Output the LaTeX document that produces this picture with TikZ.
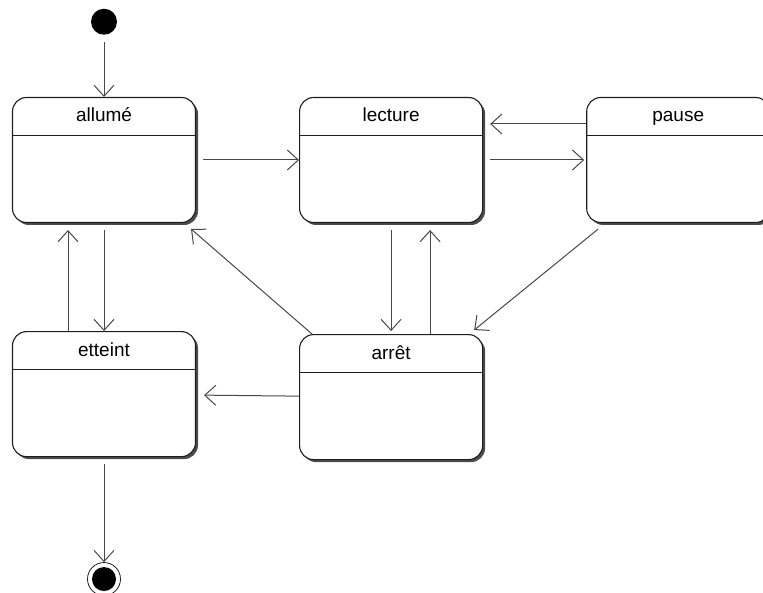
\documentclass[tikz,border=0pt]{standalone}
\usepackage{fontspec}
\setsansfont{Liberation Sans}
\usepackage{xcolor}
\usepackage{tikz}
\usetikzlibrary{arrows.meta, positioning, shadows}
\definecolor{ligne}{RGB}{72,72,72}
\definecolor{bord}{RGB}{30,30,30}
\tikzset{
  etat/.style={draw=bord, line width=1.1pt, fill=white, rounded corners=14pt,
               minimum width=183pt, minimum height=125pt,
               drop shadow={shadow xshift=2.5pt, shadow yshift=-2.5pt, fill=black!70, opacity=1},
               path picture={\draw[bord, line width=1.1pt]
                 ([yshift=-38pt]path picture bounding box.north west) --
                 ([yshift=-38pt]path picture bounding box.north east);}},
  titre/.style={anchor=base, yshift=-25pt, font=\sffamily\fontsize{19}{21}\selectfont},
  debut/.style={circle, fill=black, minimum size=26pt, inner sep=0pt},
  fin/.style={circle, draw=bord, line width=0.8pt, fill=white, minimum size=33pt, inner sep=0pt,
              path picture={\fill[black] (path picture bounding box.center) circle[radius=12pt];}},
  trans/.style={-{Straight Barb[length=11pt, width=20pt]}, draw=ligne, line width=1pt}
}

\begin{document}
\begin{tikzpicture}[node distance=108pt and 103pt]
  \useasboundingbox (0,0) rectangle (763pt,-593pt);
  \node[etat, label={[titre]north:allumé}] (allume) at (104pt,-160pt) {};
  \node[etat, label={[titre]north:lecture}, right=of allume] (lecture) {};
  \node[etat, label={[titre]north:pause}, right=of lecture] (pause) {};
  \node[etat, label={[titre]north:etteint}, below=of allume] (eteint) {};
  \node[etat, label={[titre]north:arrêt}, below=111pt of lecture] (arret) {};
  \node[debut, above=62pt of allume] (depart) {};
  \node[fin, below=105pt of eteint] (final) {};

  % transitions droites
  \foreach \a/\b in {depart/allume, allume/lecture, allume/eteint, eteint/final}
    \draw[trans, shorten <=7pt] (\a) -- (\b);
  \draw[trans, shorten <=7pt, shorten >=2pt] (lecture) -- (pause);
  \draw[trans, shorten <=7pt, shorten >=3pt] (lecture) -- (arret);
  \draw[trans, shorten >=8pt] (arret) -- (eteint);

  % transitions decalees
  \draw[trans, shorten >=7pt] ([yshift=36pt]pause.west) -- ([yshift=36pt]lecture.east);
  \draw[trans, shorten >=7pt] ([xshift=-36pt]eteint.north) -- ([xshift=-36pt]allume.south);
  \draw[trans, shorten >=7pt] ([xshift=39pt]arret.north) -- ([xshift=39pt]lecture.south);
  \draw[trans] ([xshift=12pt,yshift=-6pt]pause.south west) -- ([xshift=-9pt,yshift=4pt]arret.north east);
  \draw[trans] ([xshift=13pt]arret.north west) -- ([xshift=-5pt,yshift=-6pt]allume.south east);
\end{tikzpicture}
\end{document}
